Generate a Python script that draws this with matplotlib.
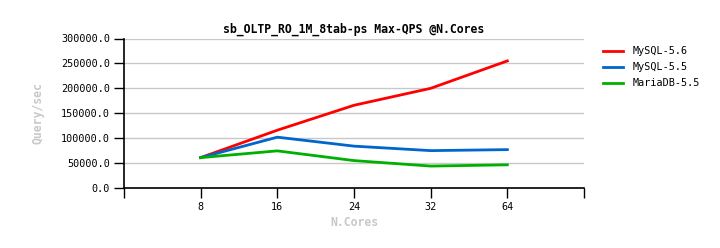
import matplotlib
matplotlib.use('Agg')
import matplotlib.pyplot as plt

cores = ['8', '16', '24', '32', '64']
mysql56 = [61000, 116000, 166000, 200000, 255000]
mysql55 = [61000, 102000, 84000, 75000, 77000]
mariadb55 = [61000, 74500, 55000, 44000, 46500]

series = [('MySQL-5.6', mysql56, '#ff0000'),
          ('MySQL-5.5', mysql55, '#0066cc'),
          ('MariaDB-5.5', mariadb55, '#00b000')]

plt.rcParams['font.family'] = 'DejaVu Sans Mono'

fig = plt.figure(figsize=(7.2, 2.48), dpi=100)
ax = fig.add_axes([124 / 720, 60 / 248, 460 / 720, 149.5 / 248])

pos = list(range(1, len(cores) + 1))
for name, vals, col in series:
    ax.plot(pos, vals, color=col, lw=2, label=name)

ax.set_xlim(0, len(cores) + 1)
ax.set_ylim(0, 300000)
ax.set_yticks(range(0, 300001, 50000))
ax.set_yticklabels(['%.1f' % v for v in range(0, 300001, 50000)], fontsize=7.3)
ax.set_xticks(range(0, len(cores) + 2))
ax.set_xticklabels([''] + cores + [''], fontsize=7.3)
ax.tick_params(direction='out', length=7, width=1, color='black', pad=3)
ax.grid(axis='y', color='#c8c8c8', lw=1)
ax.set_axisbelow(True)
for s in ['top', 'right']:
    ax.spines[s].set_visible(False)
ax.spines['left'].set_linewidth(1.2)
ax.spines['bottom'].set_linewidth(1.2)

ax.set_title('sb_OLTP_RO_1M_8tab-ps Max-QPS @N.Cores', fontsize=8.3,
             fontweight='bold', pad=4)
ax.set_ylabel('Query/sec', color='#c8c8c8', fontweight='bold', fontsize=8.3,
              labelpad=12)
ax.set_xlabel('N.Cores', color='#c8c8c8', fontweight='bold', fontsize=8.3,
              labelpad=3)

fig.legend(loc='upper left', bbox_to_anchor=(594 / 720, 1 - 37 / 248),
           frameon=False, fontsize=7.3, handlelength=2.0, handletextpad=0.9,
           labelspacing=0.6)

fig.savefig('out.png', dpi=100)
